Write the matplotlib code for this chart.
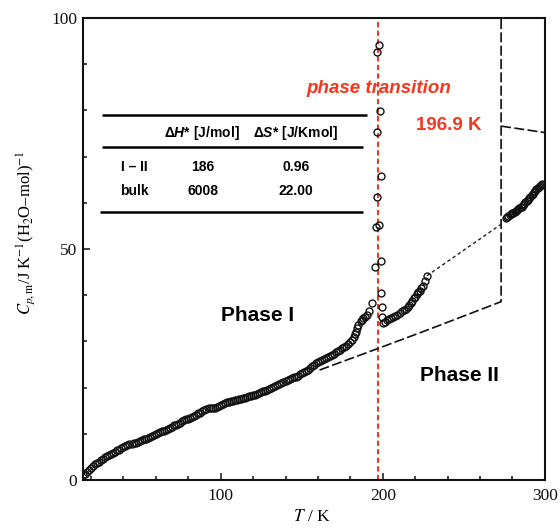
import numpy as np
import matplotlib.pyplot as plt

# heat capacity of confined water, phase I (low temperature branch)
T_phase1 = [15.0, 16.25, 17.5, 18.75, 20.0, 21.25, 22.5, 23.75, 25.0, 26.25,
            27.5, 28.75, 30.0, 31.25, 32.5, 33.75, 35.0, 36.25, 37.5, 38.75,
            40.0, 41.25, 42.5, 43.75, 45.0, 46.25, 47.5, 48.75, 50.0, 51.25,
            52.5, 53.75, 55.0, 56.25, 57.5, 58.75, 60.0, 61.25, 62.5, 63.75,
            65.0, 66.25, 67.5, 68.75, 70.0, 71.25, 72.5, 73.75, 75.0, 76.25,
            77.5, 78.75, 80.0, 81.25, 82.5, 83.75, 85.0, 86.25, 87.5, 88.75,
            90.0, 91.25, 92.5, 93.75, 95.0, 96.25, 97.5, 98.75, 100.0, 101.25,
            102.5, 103.75, 105.0, 106.25, 107.5, 108.75, 110.0, 111.25, 112.5, 113.75,
            115.0, 116.25, 117.5, 118.75, 120.0, 121.25, 122.5, 123.75, 125.0, 126.25,
            127.5, 128.75, 130.0, 131.25, 132.5, 133.75, 135.0, 136.25, 137.5, 138.75,
            140.0, 141.25, 142.5, 143.75, 145.0, 146.25, 147.5, 148.75, 150.0, 151.25,
            152.5, 153.75, 155.0, 156.25, 157.5, 158.75, 160.0, 161.25, 162.5, 163.75,
            165.0, 166.25, 167.5, 168.75, 170.0, 171.25, 172.5, 173.75, 175.0, 176.25,
            177.5, 178.75, 180.0, 181.0, 182.0, 183.0, 183.5, 184.3, 185.0, 186.5,
            187.3, 188.0, 189.0, 190.0, 191.5]
cp_phase1 = [1.0, 1.4, 1.8, 2.2, 2.6, 3.0, 3.4, 3.7, 4.0, 4.3,
             4.6, 4.9, 5.1, 5.4, 5.6, 5.9, 6.1, 6.4, 6.6, 6.9,
             7.1, 7.4, 7.6, 7.8, 7.9, 8.0, 8.1, 8.3, 8.4, 8.6,
             8.8, 8.9, 9.1, 9.3, 9.5, 9.7, 9.9, 10.1, 10.3, 10.5,
             10.7, 10.9, 11.1, 11.3, 11.5, 11.8, 12.0, 12.2, 12.4, 12.7,
             12.9, 13.1, 13.3, 13.5, 13.7, 13.9, 14.1, 14.4, 14.6, 14.9,
             15.1, 15.4, 15.6, 15.6, 15.5, 15.6, 15.8, 16.0, 16.2, 16.4,
             16.6, 16.8, 16.9, 17.1, 17.2, 17.3, 17.4, 17.5, 17.6, 17.7,
             17.8, 18.0, 18.1, 18.2, 18.3, 18.5, 18.7, 18.9, 19.0, 19.2,
             19.3, 19.5, 19.7, 19.9, 20.1, 20.3, 20.5, 20.8, 21.0, 21.2,
             21.4, 21.6, 21.8, 22.0, 22.2, 22.4, 22.6, 22.9, 23.1, 23.4,
             23.6, 23.9, 24.2, 24.6, 25.0, 25.3, 25.5, 25.7, 25.9, 26.2,
             26.4, 26.6, 26.8, 27.0, 27.3, 27.6, 27.9, 28.2, 28.5, 28.8,
             29.1, 29.5, 29.9, 30.4, 30.9, 31.6, 32.0, 32.8, 33.6, 34.4,
             34.7, 35.0, 35.3, 35.7, 36.5]

# points scattered around the transition peak
T_peak = [193.5, 195.2, 196.0, 196.6, 196.6, 196.6, 197.6, 197.6, 198.2,
          198.9, 198.9, 199.2, 199.7, 199.7]
cp_peak = [38.3, 46.0, 54.8, 61.3, 75.4, 92.6, 94.2, 55.2, 79.9,
           65.8, 47.3, 40.5, 37.4, 35.3]

# phase II branch above the transition
T_phase2 = [200.0, 201.2, 202.5, 203.7, 204.9, 206.2, 207.4, 209.0, 210.5,
            211.8, 213.0, 214.2, 215.4, 216.4, 217.3, 218.2, 219.1, 220.0,
            221.0, 221.9, 222.8, 223.8, 224.7, 225.9, 227.2]
cp_phase2 = [34.0, 34.3, 34.6, 34.8, 35.0, 35.2, 35.5, 35.8, 36.2,
             36.5, 36.8, 37.1, 37.5, 37.9, 38.4, 38.8, 39.3, 39.7,
             40.2, 40.6, 41.0, 41.5, 42.0, 43.0, 44.2]

# liquid branch above the melting of bulk ice
T_liquid = [276.0, 276.8, 277.5, 278.3, 279.0, 279.8, 280.5, 281.3, 282.0,
            282.8, 283.5, 284.3, 285.0, 285.8, 286.5, 287.3, 288.0, 288.8,
            289.5, 290.3, 291.0, 291.8, 292.5, 293.3, 294.0, 294.8, 295.5,
            296.3, 297.0, 297.8, 298.5]
cp_liquid = [56.8, 57.0, 57.2, 57.4, 57.5, 57.7, 57.9, 58.0, 58.2,
             58.4, 58.6, 58.8, 59.0, 59.2, 59.5, 59.8, 60.1, 60.4,
             60.7, 61.0, 61.3, 61.7, 62.0, 62.3, 62.6, 62.9, 63.1,
             63.4, 63.6, 63.8, 64.0]

# extrapolation of phase II and bulk water reference curves
T_fit = [227.2, 274.0]
cp_fit = [44.2, 55.6]
T_bulk_ice = [161.0, 195.0, 230.0, 273.0]
cp_bulk_ice = [23.8, 28.2, 32.8, 38.6]
T_melt = 273.0
T_bulk_liq = [273.0, 300.0]
cp_bulk_liq = [76.6, 75.2]
T_transition = 196.9

# thermodynamic table
col_labels = ['Δ$\\mathit{H}$* [J/mol]', 'Δ$\\mathit{S}$* [J/Kmol]']
row_labels = ['I – II', 'bulk']
dH_values = ['186', '6008']
dS_values = ['0.96', '22.00']

plt.rcParams['mathtext.rm'] = 'Liberation Sans:bold'
plt.rcParams['mathtext.it'] = 'Liberation Sans:italic:bold'
plt.rcParams['mathtext.bf'] = 'Liberation Sans:bold'

red = '#f7361e'
sans = 'Liberation Sans'
serif = 'Liberation Serif'

fig = plt.figure(figsize=(5.6, 5.28), dpi=100)
ax = fig.add_axes([0.148, 0.0909, 0.825, 0.875])

ax.axvline(T_transition, color=red, lw=1.5, dashes=(2.5, 1.6), zorder=1)

mk = dict(ls='none', marker='o', ms=5, mfc='none', mec='#111111', mew=1.0, zorder=3)
ax.plot(T_phase1, cp_phase1, **mk)
ax.plot(T_peak, cp_peak, **mk)
ax.plot(T_phase2, cp_phase2, **mk)
ax.plot(T_liquid, cp_liquid, **mk)

ax.plot(T_fit, cp_fit, color='#222222', lw=1.0, dashes=(2.5, 2), zorder=2)
ax.plot(T_bulk_ice + [T_melt], cp_bulk_ice + [100], color='#111111', lw=1.2,
        dashes=(6, 2), zorder=2)
ax.plot(T_bulk_liq, cp_bulk_liq, color='#111111', lw=1.2, dashes=(6, 2), zorder=2)

ax.set_xlim(15, 300)
ax.set_ylim(0, 100)
ax.set_xticks([100, 200, 300])
ax.set_xticks(np.arange(20, 300, 20), minor=True)
ax.set_yticks([0, 50, 100])
ax.set_yticks(np.arange(10, 100, 10), minor=True)
ax.tick_params(which='both', direction='in', width=1.1, colors='#111111')
ax.tick_params(which='major', length=5)
ax.tick_params(which='minor', length=3)
ax.tick_params(axis='x', pad=6)
ax.tick_params(axis='y', pad=4)
for lab in ax.get_xticklabels() + ax.get_yticklabels():
    lab.set_fontfamily(serif)
    lab.set_fontsize(12.5)
for sp in ax.spines.values():
    sp.set_linewidth(1.5)
    sp.set_color('#111111')

fig.text(0.045, 0.56, r'$C_{p,\mathrm{m}}$/J K$^{-1}$(H$_2$O–mol)$^{-1}$',
         rotation=90, ha='center', va='center', family=serif, fontsize=12,
         math_fontfamily='stix')
fig.text(0.557, 0.02, r'$T$ / K', ha='center', va='center', family=serif,
         fontsize=12.5, math_fontfamily='stix')

# table
ax.hlines(79.0, 26.5, 190.0, color='black', lw=1.8)
ax.hlines(72.1, 26.5, 187.7, color='black', lw=1.8)
ax.hlines(58.0, 25.5, 187.7, color='black', lw=1.8)
col_x = [88.5, 146.0]
for cx, lab in zip(col_x, col_labels):
    ax.text(cx, 75.1, lab, ha='center', va='center', family=sans,
            weight='bold', fontsize=10, math_fontfamily='custom')
for ry, rl, h, s in zip([67.7, 62.6], row_labels, dH_values, dS_values):
    ax.text(47.0, ry, rl, ha='center', va='center', family=sans, weight='bold', fontsize=10)
    ax.text(89.0, ry, h, ha='center', va='center', family=sans, weight='bold', fontsize=10)
    ax.text(146.5, ry, s, ha='center', va='center', family=sans, weight='bold', fontsize=10)

ax.text(197.5, 84.8, 'phase transition', ha='center', va='center', color=red,
        family=sans, weight='bold', style='italic', fontsize=13.5)
ax.text(240.4, 76.8, '196.9 K', ha='center', va='center', color=red,
        family=sans, weight='bold', fontsize=13.5)
ax.text(122.5, 35.7, 'Phase I', ha='center', va='center', family=sans,
        weight='bold', fontsize=15)
ax.text(247.5, 22.7, 'Phase II', ha='center', va='center', family=sans,
        weight='bold', fontsize=15)

fig.savefig('out.png', dpi=100, facecolor='white')
